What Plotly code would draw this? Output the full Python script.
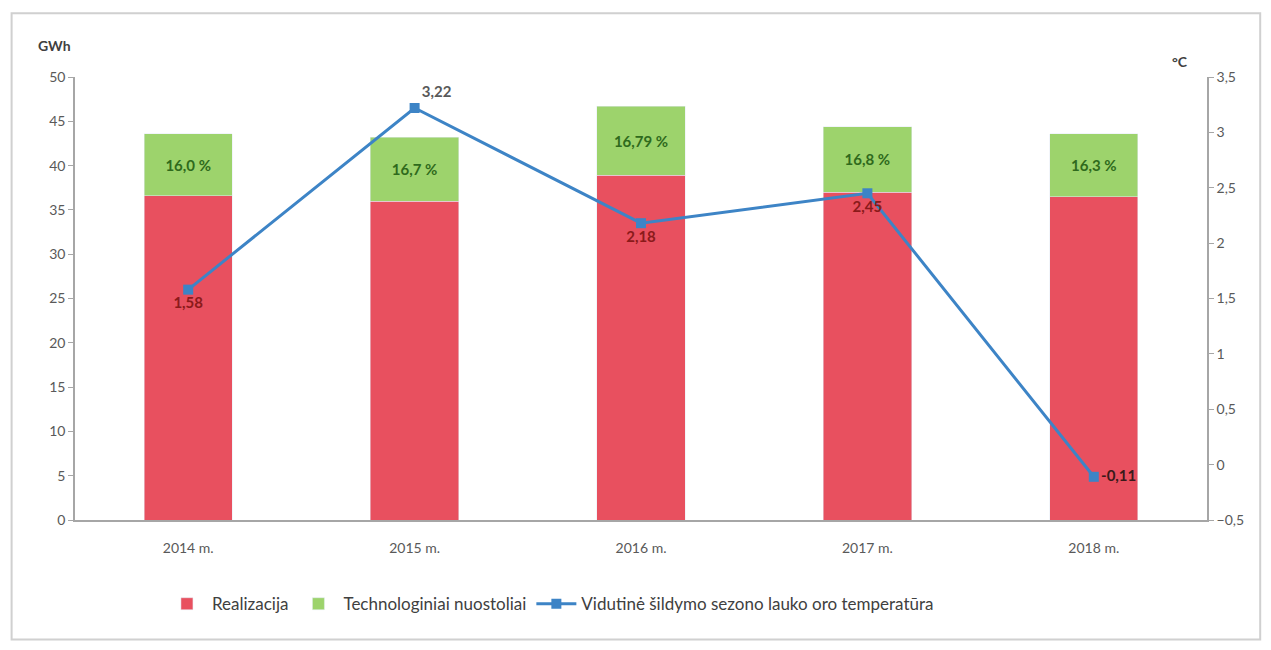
import plotly.graph_objects as go

# Data
years = ['2014 m.', '2015 m.', '2016 m.', '2017 m.', '2018 m.']
realizacija = [36.6, 36.0, 38.9, 37.0, 36.5]
nuostoliai = [7.0, 7.2, 7.8, 7.4, 7.1]
nuostoliai_pct = ['16,0 %', '16,7 %', '16,79 %', '16,8 %', '16,3 %']
temperatura = [1.58, 3.22, 2.18, 2.45, -0.11]

temp_pos = ['bottom center', 'top right', 'bottom center', 'bottom center', 'middle right']
temp_colors = ['#8b1a1a', '#595959', '#8b1a1a', '#8b1a1a', '#3a1a1a']

FONT = 'Lato, Open Sans, sans-serif'

fig = go.Figure()

fig.add_trace(go.Bar(
    x=years, y=realizacija, name='Realizacija',
    marker=dict(color='#e8505f'), width=0.39,
))
fig.add_trace(go.Bar(
    x=years, y=nuostoliai, name='Technologiniai nuostoliai',
    marker=dict(color='#9dd36c'), width=0.39,
    text=['<b>' + t + '</b>' for t in nuostoliai_pct],
    textposition='inside', insidetextanchor='middle',
    textfont=dict(color='#2f6a1c', size=15, family=FONT), textangle=0,
))
fig.add_trace(go.Scatter(
    x=years, y=temperatura, yaxis='y2', name='Vidutinė šildymo sezono lauko oro temperatūra',
    mode='lines+markers+text',
    line=dict(color='#3d84c6', width=3),
    marker=dict(symbol='square', size=10, color='#3d84c6'),
    texttemplate='<b>%{y:.2f}</b>', textposition=temp_pos,
    textfont=dict(color=temp_colors, size=15, family=FONT),
))

fig.update_layout(
    width=1255, height=634,
    barmode='stack',
    separators=', ',
    paper_bgcolor='white', plot_bgcolor='white',
    font=dict(family=FONT, size=14, color='#595959'),
    margin=dict(l=67, r=56, t=69, b=122),
    showlegend=True,
    legend=dict(orientation='h', x=0.42, xanchor='center', y=-0.19, yanchor='middle',
                font=dict(size=17, color='#404040'), traceorder='normal',
                itemwidth=40),
    xaxis=dict(showline=True, linecolor='#a6a6a6', linewidth=1.5, ticks='',
               ticklabelstandoff=14, tickfont=dict(size=14, color='#595959')),
    yaxis=dict(range=[0, 50], dtick=5, showgrid=False, zeroline=False,
               showline=True, linecolor='#a6a6a6', linewidth=1.5,
               ticks='outside', ticklen=5, tickcolor='#a6a6a6'),
    yaxis2=dict(range=[-0.5, 3.5], dtick=0.5, overlaying='y', side='right',
                showgrid=False, zeroline=False, showline=True, linecolor='#a6a6a6',
                linewidth=1.5, ticks='outside', ticklen=5, tickcolor='#a6a6a6'),
    annotations=[
        dict(text='<b>GWh</b>', xref='paper', yref='paper', x=-0.018, y=1.072,
             xanchor='center', yanchor='middle', showarrow=False,
             font=dict(size=14, color='#404040')),
        dict(text='<b>°C</b>', xref='paper', yref='paper', x=0.976, y=1.034,
             xanchor='center', yanchor='middle', showarrow=False,
             font=dict(size=14, color='#404040')),
    ],
)

# light outer frame of the chart
fig.add_shape(type='rect', xref='paper', yref='paper',
              x0=-0.056, x1=1.047, y0=-0.27, y1=1.144,
              line=dict(color='#d0d0d0', width=2))

fig.write_html('out.html')
